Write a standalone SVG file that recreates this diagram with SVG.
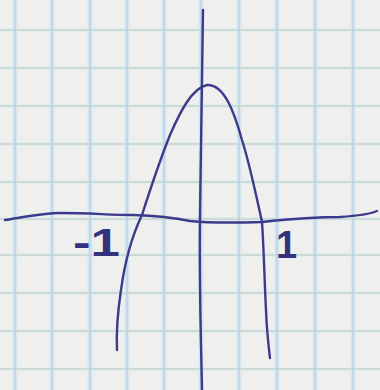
<svg xmlns="http://www.w3.org/2000/svg" width="380" height="390" viewBox="0 0 380 390">
<style>
.gw{stroke:#d6e7f4;stroke-width:5;fill:none}
.gt{stroke:#aec7dc;stroke-width:1;fill:none}
.pen{stroke:#3b3a8c;stroke-width:2.4;fill:none;stroke-linecap:round;stroke-linejoin:round}
.lbl{font-family:"Liberation Sans",Arial,sans-serif;font-weight:bold;font-size:38px;fill:#34327e}
</style>
<rect width="380" height="390" fill="#efefed"/>
<g id="grid">
<path class="gw" d="M15,0V390M52,0V390M90,0V390M127,0V390M164,0V390M201,0V390M239,0V390M277,0V390M315,0V390M353,0V390"/>
<path class="gw" style="stroke:#dcebea;stroke-width:3" d="M0,30H380M0,68H380M0,106H380M0,144H380M0,182H380M0,219H380M0,255H380M0,293H380M0,331H380M0,369H380"/>
<path class="gt" d="M15,0V390M52,0V390M90,0V390M127,0V390M164,0V390M201,0V390M239,0V390M277,0V390M315,0V390M353,0V390"/>
<path class="gt" style="stroke:#bccaca" d="M0,30H380M0,68H380M0,106H380M0,144H380M0,182H380M0,219H380M0,255H380M0,293H380M0,331H380M0,369H380"/>
</g>
<g id="axes">
<path id="y-axis" class="pen" d="M203,10 C202,80 201,150 200,215 C199,280 201,340 202,390"/>
<path id="x-axis" class="pen" d="M5,220 C30,216 45,213 60,213 C90,213 110,215 133,215 C160,216 175,218 190,221 C210,223 230,223 262,222 C290,219 320,217 340,217 C355,216 368,215 377,211"/>
</g>
<g id="curve">
<path class="pen" d="M117,350 C116,330 118,310 121,290 C124,268 130,240 142,215 C150,190 160,160 170,135 C180,112 192,88 207,85 C225,84 235,115 242,140 C250,165 256,195 262,222 C264,250 265,300 267,328 C268,340 269,350 270,358"/>
</g>
<g id="labels">
<text class="lbl" x="73" y="256" textLength="47" lengthAdjust="spacingAndGlyphs">-1</text>
<text class="lbl" x="276" y="258">1</text>
</g>
</svg>
